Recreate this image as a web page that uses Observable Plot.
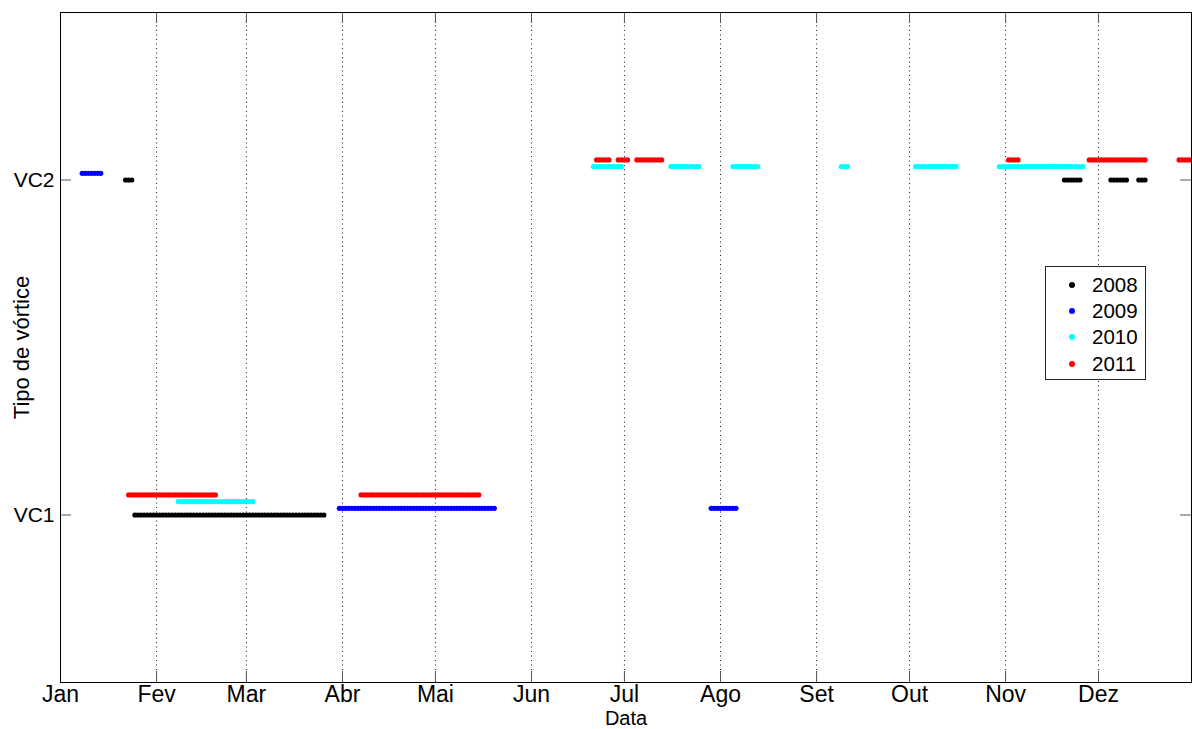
<!DOCTYPE html>
<html>
<head>
<meta charset="utf-8">
<script src="https://cdn.jsdelivr.net/npm/d3@7"></script>
<script src="https://cdn.jsdelivr.net/npm/@observablehq/plot@0.6"></script>
<style>
  html, body { margin: 0; padding: 0; background: #fff; }
  #wrap { position: relative; width: 1192px; height: 729px; font-family: "Liberation Sans", Arial, Helvetica, sans-serif; }
  #legend { position: absolute; left: 1045px; top: 266px; width: 101px; height: 114px; border: 1px solid #262626; background: #fff; box-sizing: border-box; }
  .row { position: absolute; left: 0; height: 24px; display: flex; align-items: center; font-size: 20.5px; color: #000; }
  .sw { display: inline-block; width: 6px; height: 6px; border-radius: 50%; margin-left: 23px; margin-right: 17px; }
</style>
</head>
<body>
<div id="wrap"></div>
<script>
// ---- Data (day of year, 0 = 1 Jan) ----
const monthLabels = ["Jan","Fev","Mar","Abr","Mai","Jun","Jul","Ago","Set","Out","Nov","Dez"];
const monthStartDays = [0,31,60,91,121,152,182,213,244,274,305,335];
const years = ["2008","2009","2010","2011"];
const yearColors = ["#000000","#0000ff","#00ffff","#ff0000"];
const typeLabels = ["VC1","VC2"];
const typeValues = [1, 2];

// runs of consecutive days [first, last] for each year and vortex type
const runs2008VC1 = [[24,85]];
const runs2008VC2 = [[21,23],[324,329],[339,344],[348,350]];
const runs2009VC1 = [[90,140],[210,218]];
const runs2009VC2 = [[7,13]];
const runs2010VC1 = [[38,62]];
const runs2010VC2 = [[172,181],[197,206],[217,225],[252,254],[276,289],[303,330]];
const runs2011VC1 = [[22,50],[97,135]];
const runs2011VC2 = [[173,177],[180,183],[186,194],[306,309],[332,350],[361,365]];

const runsByYear = [
  [runs2008VC1, runs2008VC2],
  [runs2009VC1, runs2009VC2],
  [runs2010VC1, runs2010VC2],
  [runs2011VC1, runs2011VC2]
];

const points = [];
runsByYear.forEach((pair, i) => {
  pair.forEach((runs, t) => {
    runs.forEach(([a, b]) => {
      for (let d = a; d <= b; d++) {
        points.push({year: years[i], tipo: typeValues[t], y: typeValues[t] + i * 0.02, day: d});
      }
    });
  });
});

const W = 1192, H = 729;
const mL = 60, mR = 1, mT = 12, mB = 47;
const xDomain = [0, 365], yDomain = [0.5, 2.5];
const tickPx = 11;
const tY = tickPx * (yDomain[1] - yDomain[0]) / (H - mT - mB);
const tX = tickPx * (xDomain[1] - xDomain[0]) / (W - mL - mR);

const gridDays = monthStartDays.filter(d => d > 0);

const chart = Plot.plot({
  width: W, height: H,
  marginLeft: mL, marginRight: mR, marginTop: mT, marginBottom: mB,
  style: {fontFamily: '"Liberation Sans", Arial, Helvetica, sans-serif', background: "#fff", color: "#000"},
  x: {domain: xDomain},
  y: {domain: yDomain},
  color: {domain: years, range: yearColors},
  marks: [
    Plot.ruleX(gridDays, {x: d => d, stroke: "#000", strokeOpacity: 0.9, strokeDasharray: "1,3.5"}),
    // inward ticks, bottom & top
    Plot.ruleX(monthStartDays, {x: d => d, y1: yDomain[0], y2: yDomain[0] + tY, stroke: "#555"}),
    Plot.ruleX(monthStartDays, {x: d => d, y1: yDomain[1], y2: yDomain[1] - tY, stroke: "#555"}),
    // inward ticks, left & right
    Plot.ruleY(typeValues, {y: d => d, x1: xDomain[0], x2: xDomain[0] + tX, stroke: "#555"}),
    Plot.ruleY(typeValues, {y: d => d, x1: xDomain[1], x2: xDomain[1] - tX, stroke: "#555"}),
    Plot.dot(points, {x: "day", y: "y", fill: "year", r: 2.6, stroke: null}),
    Plot.frame({stroke: "#000", strokeWidth: 1}),
    Plot.axisX(monthStartDays, {tickSize: 0, tickPadding: 3, tickFormat: d => monthLabels[monthStartDays.indexOf(d)], fontSize: 23, label: null}),
    Plot.axisY(typeValues, {tickSize: 0, tickPadding: 6, tickFormat: d => typeLabels[typeValues.indexOf(d)], fontSize: 21, label: null}),
    Plot.text(["Data"], {frameAnchor: "bottom", lineAnchor: "bottom", dy: 42, fontSize: 20, fill: "#000"}),
    Plot.text(["Tipo de vórtice"], {frameAnchor: "left", textAnchor: "middle", lineAnchor: "middle", rotate: -90, dx: -39, fontSize: 22, fill: "#000"})
  ]
});

const wrap = document.getElementById("wrap");
wrap.appendChild(chart);

const legend = document.createElement("div");
legend.id = "legend";
const rowTops = [6, 32, 58, 85];
years.forEach((y, i) => {
  const row = document.createElement("div");
  row.className = "row";
  row.style.top = rowTops[i] + "px";
  const sw = document.createElement("span");
  sw.className = "sw";
  sw.style.background = yearColors[i];
  row.appendChild(sw);
  row.appendChild(document.createTextNode(y));
  legend.appendChild(row);
});
wrap.appendChild(legend);
</script>
</body>
</html>
